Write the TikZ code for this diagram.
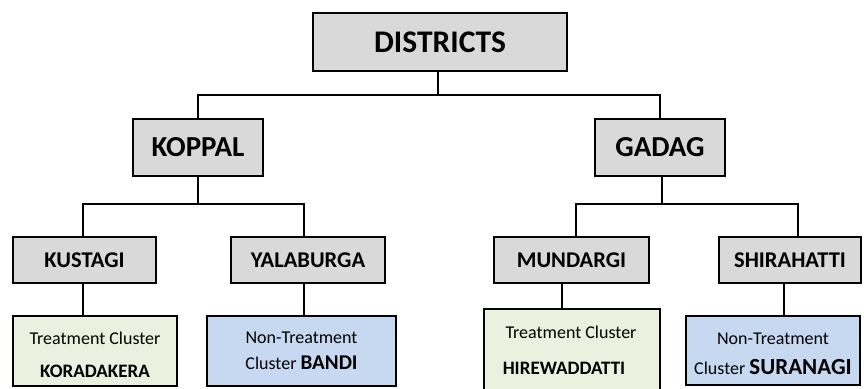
\documentclass[tikz,border=0pt]{standalone}
\usepackage{fontspec}
\setmainfont{Carlito}
\definecolor{boxgray}{HTML}{D9D9D9}
\definecolor{boxgreen}{HTML}{EBF1DE}
\definecolor{boxblue}{HTML}{C6D9F1}
\begin{document}
\begin{tikzpicture}[x=1pt,y=-1pt,
  every node/.style={inner sep=0pt, outer sep=0pt},
  gbox/.style={draw=black, line width=1.1pt, fill=boxgray, minimum height=#1, font=\bfseries},
  greenbox/.style={draw=black, line width=1.1pt, fill=boxgreen, align=center},
  bluebox/.style={draw=black, line width=1.1pt, fill=boxblue, align=center},
  conn/.style={draw=black, line width=1.1pt}]
\useasboundingbox (0,0) rectangle (864,388);
\clip (0,0) rectangle (864,388);
\fill[white] (0,0) rectangle (864,388);

% level 1
\node[gbox=58pt, minimum width=254pt] (D) at (440,42) {\fontsize{31.5}{36}\selectfont DISTRICTS};
% level 2
\node[gbox=57pt, minimum width=130pt] (K) at (198,147.5) {\fontsize{29}{34}\selectfont KOPPAL};
\node[gbox=57pt, minimum width=130pt] (G) at (660,147.5) {\fontsize{29}{34}\selectfont GADAG};
% level 3
\node[gbox=46pt, minimum width=143pt] (KU) at (84.5,260) {\fontsize{22.5}{26}\selectfont KUSTAGI};
\node[gbox=46pt, minimum width=154pt] (Y) at (308,260) {\fontsize{22.5}{26}\selectfont YALABURGA};
\node[gbox=46pt, minimum width=155pt] (M) at (571.5,260) {\fontsize{22.5}{26}\selectfont MUNDARGI};
\node[gbox=46pt, minimum width=142pt] (S) at (790,260) {\fontsize{22.5}{26}\selectfont SHIRAHATTI};
% level 4
\node[greenbox, minimum width=164pt, minimum height=70pt] (T1) at (95,351) {};
\node[bluebox, minimum width=189pt, minimum height=70pt] (N1) at (301.5,351) {};
\node[greenbox, minimum width=176pt, minimum height=90pt] (T2) at (572,354) {};
\node[bluebox, minimum width=174pt, minimum height=69pt] (N2) at (773,350.5) {};

% texts of level 4
\node[anchor=base] (t1a) at (95,344) {\fontsize{18}{21}\selectfont Treatment Cluster};
\node[anchor=base] (t1b) at (95,377) {\fontsize{19}{22}\selectfont\bfseries KORADAKERA};
\node[anchor=base] (n1a) at (301.5,343) {\fontsize{18}{21}\selectfont Non-Treatment};
\node[anchor=base] (n1b) at (301.5,369) {\fontsize{18}{21}\selectfont Cluster \fontsize{21}{25}\selectfont\bfseries BANDI};
\node[anchor=base] (t2a) at (571,338) {\fontsize{18}{21}\selectfont Treatment Cluster};
\node[anchor=base] (t2b) at (564,374) {\fontsize{19}{22}\selectfont\bfseries HIREWADDATTI};
\node[anchor=base] (n2a) at (773,344) {\fontsize{18}{21}\selectfont Non-Treatment};
\node[anchor=base] (n2b) at (773,374) {\fontsize{18}{21}\selectfont Cluster \fontsize{23}{27}\selectfont\bfseries SURANAGI};

% connectors
\coordinate (j1) at (438,95);
\coordinate (j2) at (198,204);
\coordinate (j3) at (662,204);
\draw[conn] (D.south -| j1) -- (j1);
\draw[conn] (K.north) |- (j1) -| (G.north);
\draw[conn] (K.south) -- (j2);
\draw[conn] (KU.north -| 83,0) |- (j2) -| (Y.north -| 304,0);
\draw[conn] (G.south -| j3) -- (j3);
\draw[conn] (M.north -| 576,0) |- (j3) -| (S.north -| 798,0);
\draw[conn] (KU.south -| 83,0) -- (T1.north -| 83,0);
\draw[conn] (Y.south -| 304,0) -- (N1.north -| 304,0);
\draw[conn] (M.south -| 562,0) -- (T2.north -| 562,0);
\draw[conn] (S.south -| 784,0) -- (N2.north -| 784,0);
\end{tikzpicture}
\end{document}
